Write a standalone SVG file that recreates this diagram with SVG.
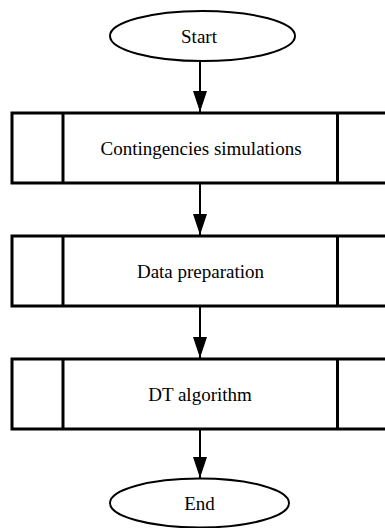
<svg xmlns="http://www.w3.org/2000/svg" width="385" height="528" viewBox="0 0 385 528">
<defs>
<style>
.box{fill:#fff;stroke:#000;stroke-width:3}
.div{stroke:#000;stroke-width:3}
.term{fill:#fff;stroke:#000;stroke-width:2}
.lbl{font-family:"Liberation Serif","Times New Roman",serif;font-size:19px;fill:#000;text-anchor:middle}
.conn{stroke:#000;stroke-width:2;fill:none}
</style>
<marker id="ah" markerUnits="userSpaceOnUse" markerWidth="21" markerHeight="14" refX="21" refY="7" orient="auto" viewBox="0 0 21 14">
<polygon points="0,0 21,7 0,14" fill="#000"/>
</marker>
</defs>
<g id="connectors">
<line class="conn" x1="200" y1="61" x2="200" y2="112" marker-end="url(#ah)"/>
<line class="conn" x1="200" y1="184" x2="200" y2="235" marker-end="url(#ah)"/>
<line class="conn" x1="200" y1="307" x2="200" y2="358" marker-end="url(#ah)"/>
<line class="conn" x1="200" y1="430" x2="200" y2="478" marker-end="url(#ah)"/>
</g>
<g id="start">
<ellipse class="term" cx="202.5" cy="36" rx="92.5" ry="25"/>
<text class="lbl" x="199" y="42.5">Start</text>
</g>
<g id="contingencies">
<rect class="box" x="12" y="113" width="376" height="70"/>
<line class="div" x1="63" y1="113" x2="63" y2="183"/>
<line class="div" x1="337.5" y1="113" x2="337.5" y2="183"/>
<text class="lbl" x="201" y="154.5">Contingencies simulations</text>
</g>
<g id="data-prep">
<rect class="box" x="12" y="236" width="376" height="70"/>
<line class="div" x1="63" y1="236" x2="63" y2="306"/>
<line class="div" x1="337.5" y1="236" x2="337.5" y2="306"/>
<text class="lbl" x="200.5" y="277.5">Data preparation</text>
</g>
<g id="dt">
<rect class="box" x="12" y="359" width="376" height="70"/>
<line class="div" x1="63" y1="359" x2="63" y2="429"/>
<line class="div" x1="337.5" y1="359" x2="337.5" y2="429"/>
<text class="lbl" x="200" y="400.5">DT algorithm</text>
</g>
<g id="end">
<ellipse class="term" cx="199.5" cy="503" rx="89.5" ry="24.5"/>
<text class="lbl" x="199.5" y="509.5">End</text>
</g>
</svg>
